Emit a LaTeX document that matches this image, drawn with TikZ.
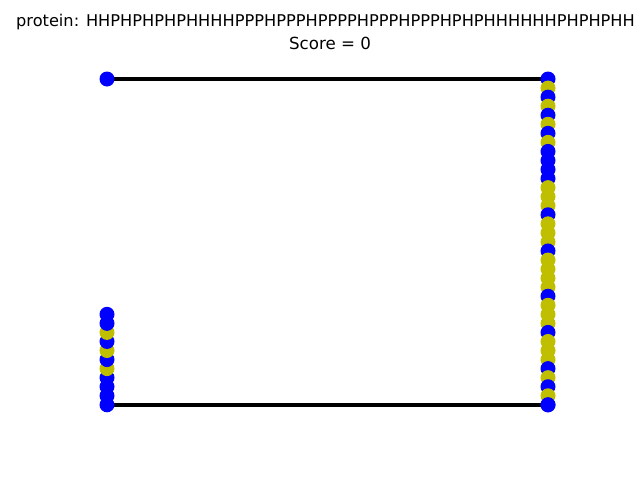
\documentclass[tikz,border=0pt]{standalone}
\usepackage{fontspec}
\setmainfont{DejaVu Sans}
\usetikzlibrary{backgrounds}
\definecolor{hcol}{RGB}{0,0,255}
\definecolor{pcol}{RGB}{191,191,0}
\tikzset{
  dot/.style={circle, inner sep=0pt, minimum size=15pt, draw=none},
  resH/.style={dot, fill=hcol},
  resP/.style={dot, fill=pcol},
  chain/.style={line width=3.8pt, black},
  title/.style={inner sep=0pt, font=\fontsize{16.67}{20}\selectfont}
}
\begin{document}
\begin{tikzpicture}[x=1pt,y=-1pt]
\useasboundingbox (0,0) rectangle (640,480);
\node[title, font=\fontsize{16.2}{20}\selectfont] (t1) at (325.5,22) {protein: HHPHPHPHPHHHHPPPHPPPHPPPPHPPPHPPPHPHPHHHHHHPHPHPHH};
\node[title] (t2) at (330,43) {Score = 0};
\foreach \t [count=\i from 0] in {H,H,P,H,P,H,P,H,P,H,H,H,H,P,P,P,H,P,P,P,H,P,P,P,P,H,P,P,P,H,P,P,P,H,P,H,P,H,H,H,H,H,H,P,H,P,H,P,H,H}{
  \pgfmathsetmacro\px{(\i==0 || \i>=39) ? 107 : 548}
  \pgfmathsetmacro\py{\i==0 ? 79 : (\i<=37 ? 79+(\i-1)*9.05 : (\i==38 ? 404.8 : 404.8-(\i-39)*9.05))}
  \node[res\t] (p\i) at (\px,\py) {};
}
\begin{pgfonlayer}{background}
\foreach \i [evaluate=\i as \j using int(\i+1)] in {0,...,48}
  \draw[chain] (p\i.center) -- (p\j.center);
\end{pgfonlayer}
\end{tikzpicture}
\end{document}
